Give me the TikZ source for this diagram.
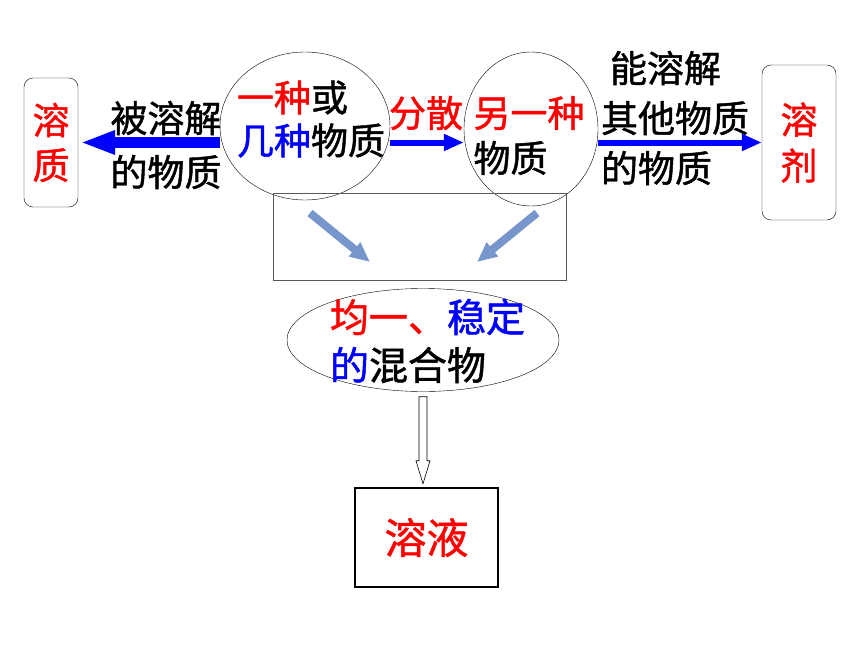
\documentclass[tikz,border=0pt]{standalone}
\usepackage{fontspec}
\setmainfont{Noto Sans CJK SC}[FakeBold=1.2]
\usetikzlibrary{arrows.meta,shapes.geometric,calc}

\begin{document}
\begin{tikzpicture}[x=1pt, y=-1pt, >=stealth,
    cjk/.style={font=\fontsize{37}{#1}\selectfont, inner sep=0pt, align=left},
    cjk/.default=45,
    termbox/.style={draw, rounded corners=9pt, inner sep=0pt, text=red, align=center},
    blob/.style={draw, ellipse, inner sep=0pt},
    bigarrow/.style={arrowBlue, line width=11pt, -{Triangle[length=35pt,width=22pt]}},
    thinarrow/.style={arrowBlue, line width=6pt, -{Triangle[length=20pt,width=16pt]}},
    fadearrow/.style={steelArrow, line width=8pt, -{Triangle[length=20pt,width=17pt]}},
    hollowarrow/.style={draw=black, fill=white, line width=0.6pt}]
    % --- COULEURS ---
    \definecolor{arrowBlue}{RGB}{0, 0, 255}
    \definecolor{steelArrow}{RGB}{118, 150, 204}

    \useasboundingbox (0,0) rectangle (860,645);

    % Solute / solvant
    \node[termbox, cjk, minimum width=54pt, minimum height=129pt] (solute) at (51,142.5) {溶\\质};
    \node[termbox, cjk=46, minimum width=74pt, minimum height=155pt] (solvent) at (799,142.5) {溶\\剂};

    % Les deux cercles
    \node[blob, minimum width=170pt, minimum height=148pt] (c1) at (305,126) {};
    \node[cjk=43] (c1txt) at (311,119) {\textcolor{red}{一种}或\\\textcolor{blue}{几种}物质};
    \node[blob, minimum width=134pt, minimum height=154pt] (c2) at (531,129) {};
    \node[cjk] (c2txt) at (529,135.5) {\textcolor{red}{另一种}\\物质};
    \node[cjk, text=red] (disperse) at (426,113) {分散};

    % Textes des fleches
    \node[cjk=54] (dissolved) at (166,145) {被溶解\\的物质};
    \node[cjk=50] (dissolving) at (675,118) {\hspace{9pt}能溶解\\其他物质\\的物质};

    % Cadre et fleches obliques
    \node[draw=gray!70!black, minimum width=293pt, minimum height=87pt, inner sep=0pt] (merge) at (419.5,236.5) {};
    \coordinate (mergeL1) at (310,213);
    \coordinate (mergeL2) at (370,262);
    \coordinate (mergeR1) at (537,213);
    \coordinate (mergeR2) at (477,262);
    \draw[fadearrow] (mergeL1) -- (mergeL2);
    \draw[fadearrow] (mergeR1) -- (mergeR2);

    % Melange
    \node[blob, minimum width=272pt, minimum height=103pt] (mix) at (423,340) {};
    \node[cjk, font=\fontsize{39}{48}\selectfont] (mixtxt) at (427.5,341) {\textcolor{red}{均一、}\textcolor{blue}{稳定}\\\textcolor{blue}{的}混合物};

    % Solution
    \node[draw, line width=2.5pt, minimum width=143pt, minimum height=99pt, inner sep=0pt, text=red, font=\fontsize{42}{42}\selectfont] (sol) at (426.5,537.5) {溶液};

    % Fleches bleues
    \draw[bigarrow, shorten >=2pt] (c1.west |- solute.east) -- (solute.east);
    \draw[thinarrow] (c1.east |- solute.east) -- (c2.west |- solute.east);
    \draw[thinarrow] (c2.east |- solvent.west) -- (solvent.west);

    % Fleche creuse
    \draw[hollowarrow] ($(mix.south)+(-4,5)$) -- ($(mix.south |- sol.north)+(-4,-26)$)
        -- ($(mix.south |- sol.north)+(-7,-26)$) -- ($(mix.south |- sol.north)+(0,-3)$)
        -- ($(mix.south |- sol.north)+(7,-26)$) -- ($(mix.south |- sol.north)+(4,-26)$)
        -- ($(mix.south)+(4,5)$) -- cycle;
\end{tikzpicture}
\end{document}
